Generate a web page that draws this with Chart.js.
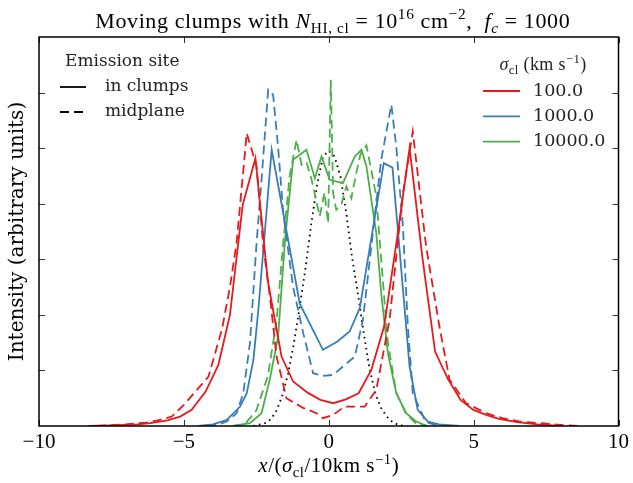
<!DOCTYPE html>
<html>
<head>
<meta charset="utf-8">
<script src="https://cdn.jsdelivr.net/npm/chart.js@4.4.1/dist/chart.umd.min.js"></script>
<style>
    html, body { margin: 0; padding: 0; background: #ffffff; }
    #kayra { display: block; }
</style>
</head>
<body>
<canvas id="kayra" width="633" height="483"></canvas>
<script>
const COLORS = {
    red: '#e41a1c',
    blue: '#377eb8',
    green: '#4daf4a',
    black: '#000000'
};

// sigma_cl = 100 km/s
const redClumpX = [-8.3, -7.5, -6.6, -6.16, -5.57, -5.13, -4.73, -4.25, -3.81, -3.41, -2.97, -2.53, -2.1, -1.63, -1.23, -0.73, -0.29, 0.15, 0.59, 1.03, 1.47, 1.91, 2.35, 2.79, 3.23, 3.67, 4.11, 4.55, 4.99, 5.43, 5.87, 6.5, 7.2, 8.0];
const redClumpY = [0.0, 0.01, 0.03, 0.05, 0.1, 0.17, 0.29, 0.62, 1.1, 2.0, 3.98, 4.82, 2.6, 1.25, 0.8, 0.6, 0.47, 0.41, 0.48, 0.59, 1.01, 1.79, 3.35, 5.0, 3.04, 1.34, 0.85, 0.47, 0.29, 0.2, 0.13, 0.07, 0.03, 0.0];
const redMidX = [-8.0, -7.0, -6.3, -5.9, -5.42, -5.0, -4.5, -4.15, -3.69, -3.41, -3.18, -2.83, -2.49, -2.26, -2.03, -1.8, -1.46, -0.9, -0.42, -0.2, 0.15, 0.55, 1.24, 1.64, 2.1, 2.56, 2.9, 3.36, 3.82, 4.17, 4.74, 5.43, 6.0, 6.6, 7.3, 8.0, 8.6];
const redMidY = [0.0, 0.03, 0.06, 0.1, 0.17, 0.38, 0.68, 0.89, 1.73, 2.5, 3.3, 5.27, 4.67, 3.23, 2.33, 1.25, 0.5, 0.33, 0.23, 0.14, 0.2, 0.35, 0.35, 0.65, 1.91, 4.19, 5.3, 3.23, 1.79, 0.83, 0.41, 0.23, 0.14, 0.08, 0.05, 0.02, 0.0];

// sigma_cl = 1000 km/s
const blueClumpX = [-4.5, -4.0, -3.52, -3.06, -2.83, -2.6, -2.43, -1.97, -1.57, -1.0, -0.2, 0.3, 0.72, 1.07, 1.9, 2.2, 2.79, 3.07, 3.42, 3.8, 4.5];
const blueClumpY = [0.0, 0.03, 0.11, 0.35, 0.59, 1.19, 2.09, 4.97, 3.83, 2.2, 1.37, 1.52, 1.7, 2.12, 4.73, 4.65, 1.07, 0.29, 0.08, 0.03, 0.0];
const blueMidX = [-4.2, -3.8, -3.52, -3.18, -2.95, -2.72, -2.49, -2.32, -2.09, -1.92, -1.75, -1.57, -1.23, -0.88, -0.54, -0.2, 0.15, 0.49, 0.9, 1.18, 1.47, 1.81, 2.16, 2.33, 2.56, 2.73, 2.9, 3.35, 3.8];
const blueMidY = [0.0, 0.03, 0.08, 0.23, 0.59, 1.49, 3.3, 4.43, 6.05, 5.96, 5.03, 3.83, 2.5, 1.67, 0.95, 0.9, 0.92, 1.07, 1.25, 1.91, 3.23, 4.79, 5.78, 5.03, 3.59, 1.79, 0.59, 0.07, 0.0];

// sigma_cl = 10000 km/s
const greenClumpX = [-3.3, -2.72, -2.32, -2.03, -1.75, -1.5, -1.23, -0.77, -0.48, -0.25, 0.03, 0.49, 0.9, 1.13, 1.3, 1.47, 1.64, 1.81, 2.04, 2.33, 2.67, 3.02, 3.4];
const greenClumpY = [0.0, 0.05, 0.23, 0.85, 1.6, 3.4, 4.79, 4.97, 4.46, 4.85, 4.43, 4.37, 4.85, 4.97, 4.67, 4.07, 3.47, 2.39, 1.31, 0.59, 0.23, 0.08, 0.0];
const greenMidX = [-3.3, -2.9, -2.5, -2.1, -1.8, -1.57, -1.35, -1.11, -0.94, -0.77, -0.6, -0.45, -0.31, -0.15, -0.02, 0.07, 0.15, 0.26, 0.44, 0.61, 0.78, 0.95, 1.1, 1.3, 1.47, 1.64, 1.81, 2.04, 2.33, 2.67, 3.0, 3.4];
const greenMidY = [0.0, 0.03, 0.28, 0.9, 1.9, 3.3, 4.5, 5.15, 4.7, 4.75, 4.45, 4.1, 3.77, 4.2, 3.65, 6.23, 4.19, 3.89, 4.0, 4.31, 4.1, 4.55, 4.9, 5.05, 4.6, 4.13, 3.0, 1.5, 0.6, 0.22, 0.05, 0.0];

// reference profile (dotted)
const refX = [-2.6, -2.2, -2.0, -1.8, -1.6, -1.4, -1.2, -1.0, -0.8, -0.6, -0.4, -0.2, 0.0, 0.2, 0.4, 0.6, 0.8, 1.0, 1.2, 1.4, 1.6, 1.8, 2.0, 2.2, 2.4, 2.6];
const refY = [0.0, 0.05, 0.12, 0.28, 0.55, 0.95, 1.5, 2.15, 2.85, 3.65, 4.35, 4.85, 4.95, 4.85, 4.5, 3.85, 3.05, 2.4, 1.7, 1.05, 0.6, 0.33, 0.17, 0.07, 0.02, 0.0];

const sigmaLabels = ['100.0', '1000.0', '10000.0'];
const siteLabels = ['in clumps', 'midplane'];
const xTicks = [-10, -5, 0, 5, 10];
const yTicks = [1, 2, 3, 4, 5, 6];

const SERIF = '"DejaVu Serif", serif';
const MATH = '"Liberation Serif", "Times New Roman", serif';
const DASH = [9, 5];

function pairs( xs, ys )
{
    return xs.map( ( x, i ) => ( { x: x, y: ys[ i ] } ) );
}

function lineSet( xs, ys, color, dash, width )
{
    return {
        data: pairs( xs, ys ),
        borderColor: color,
        backgroundColor: color,
        borderWidth: width || 1.8,
        borderDash: dash || [],
        pointRadius: 0,
        tension: 0,
        fill: false
    };
}

// draw text pieces with italic / sub / sup parts
function drawRich( ctx, parts, x, y, size, family, align, spacing )
{
    ctx.letterSpacing = ( spacing || 0 ) + 'px';
    let w = 0;
    const items = parts.map( function ( p )
    {
        const small = p.sub || p.sup;
        const fs = small ? size * 0.7 : size;
        const font = ( p.it ? 'italic ' : '' ) + fs + 'px ' + family;
        ctx.font = font;
        const tw = ctx.measureText( p.t ).width;
        const dy = p.sub ? size * 0.22 : ( p.sup ? -size * 0.4 : 0 );
        const item = { t: p.t, font: font, dx: w, dy: dy };
        w += tw;
        return item;
    } );
    let x0 = x;
    if ( align === 'center' ) x0 = x - w / 2;
    ctx.textBaseline = 'alphabetic';
    ctx.textAlign = 'left';
    items.forEach( function ( it )
    {
        ctx.font = it.font;
        ctx.fillText( it.t, x0 + it.dx, y + it.dy );
    } );
    ctx.letterSpacing = '0px';
}

const decorPlugin = {
    id: 'decor',
    afterDatasetsDraw( chart )
    {
        const ctx = chart.ctx;
        const a = chart.chartArea;
        const xs = chart.scales.x;
        const ys = chart.scales.y;
        ctx.save();

        // tick marks inside, on all four sides
        ctx.strokeStyle = '#333333';
        ctx.lineWidth = 1;
        xTicks.forEach( function ( t )
        {
            const px = Math.round( xs.getPixelForValue( t ) ) + 0.5;
            ctx.beginPath();
            ctx.moveTo( px, a.bottom );
            ctx.lineTo( px, a.bottom - 6 );
            ctx.moveTo( px, a.top );
            ctx.lineTo( px, a.top + 6 );
            ctx.stroke();
        } );
        yTicks.forEach( function ( t )
        {
            const py = Math.round( ys.getPixelForValue( t ) ) + 0.5;
            ctx.beginPath();
            ctx.moveTo( a.left, py );
            ctx.lineTo( a.left + 6, py );
            ctx.moveTo( a.right, py );
            ctx.lineTo( a.right - 6, py );
            ctx.stroke();
        } );

        // frame
        ctx.strokeStyle = '#000000';
        ctx.lineWidth = 1.5;
        ctx.strokeRect( a.left, a.top, a.right - a.left, a.bottom - a.top );

        // title
        ctx.fillStyle = '#000000';
        drawRich( ctx, [
            { t: 'Moving clumps with ' },
            { t: 'N', it: true },
            { t: 'HI, cl', sub: true },
            { t: ' = 10' },
            { t: '16', sup: true },
            { t: ' cm' },
            { t: '\u22122', sup: true },
            { t: ',  ' },
            { t: 'f', it: true },
            { t: 'c', it: true, sub: true },
            { t: ' = 1000' }
        ], ( a.left + a.right ) / 2 + 4, 28, 22, MATH, 'center', 0.6 );

        // x axis label
        drawRich( ctx, [
            { t: 'x', it: true },
            { t: '/(' },
            { t: '\u03c3', it: true },
            { t: 'cl', sub: true },
            { t: '/10km s' },
            { t: '\u22121', sup: true },
            { t: ')' }
        ], ( a.left + a.right ) / 2, 472, 21, MATH, 'center', 0.5 );

        // legend: emission site
        ctx.fillStyle = '#222222';
        ctx.font = '17px ' + SERIF;
        ctx.textBaseline = 'middle';
        ctx.fillText( 'Emission site', 65, 62 );
        const siteDash = [ [], DASH ];
        siteLabels.forEach( function ( lab, i )
        {
            const y = 87 + i * 25;
            ctx.strokeStyle = '#000000';
            ctx.lineWidth = 1.8;
            ctx.setLineDash( siteDash[ i ] );
            ctx.beginPath();
            ctx.moveTo( 60, y );
            ctx.lineTo( 86, y );
            ctx.stroke();
            ctx.setLineDash( [] );
            ctx.font = '17px ' + SERIF;
            ctx.textBaseline = 'middle';
            ctx.fillStyle = '#222222';
            ctx.fillText( lab, 105, y );
        } );

        // legend: sigma
        ctx.fillStyle = '#222222';
        drawRich( ctx, [
            { t: '\u03c3', it: true },
            { t: 'cl', sub: true },
            { t: ' (km s' },
            { t: '\u22121', sup: true },
            { t: ')' }
        ], 543, 70, 18, MATH, 'center', 0.4 );
        const sigmaColors = [ COLORS.red, COLORS.blue, COLORS.green ];
        sigmaLabels.forEach( function ( lab, i )
        {
            const y = 91 + i * 25.3;
            ctx.strokeStyle = sigmaColors[ i ];
            ctx.lineWidth = 1.8;
            ctx.beginPath();
            ctx.moveTo( 483, y );
            ctx.lineTo( 520, y );
            ctx.stroke();
            ctx.font = '17.5px ' + SERIF;
            ctx.textBaseline = 'middle';
            ctx.textAlign = 'left';
            ctx.fillStyle = '#222222';
            ctx.fillText( lab, 533, y );
        } );

        ctx.restore();
    }
};

const config = {
    type: 'line',
    data: {
        datasets: [
            lineSet( redClumpX, redClumpY, COLORS.red ),
            lineSet( redMidX, redMidY, COLORS.red, DASH ),
            lineSet( blueClumpX, blueClumpY, COLORS.blue ),
            lineSet( blueMidX, blueMidY, COLORS.blue, DASH ),
            lineSet( greenClumpX, greenClumpY, COLORS.green ),
            lineSet( greenMidX, greenMidY, COLORS.green, DASH ),
            lineSet( refX, refY, COLORS.black, [ 1.6, 4 ], 1.8 )
        ]
    },
    options: {
        responsive: false,
        animation: false,
        devicePixelRatio: 1,
        layout: {
            padding: { top: 37, right: 13, left: 0, bottom: 0 }
        },
        plugins: {
            legend: { display: false },
            title: { display: false },
            tooltip: { enabled: false }
        },
        scales: {
            x: {
                type: 'linear',
                min: -10,
                max: 10,
                grid: { display: false, drawTicks: false },
                border: { display: false },
                afterBuildTicks: function ( scale )
                {
                    scale.ticks = xTicks.map( v => ( { value: v } ) );
                },
                afterFit: function ( scale )
                {
                    scale.height = 57;
                },
                ticks: {
                    padding: 4,
                    color: '#000000',
                    font: { family: MATH, size: 21 },
                    maxRotation: 0,
                    autoSkip: false,
                    callback: function ( value )
                    {
                        return value < 0 ? '\u2212' + Math.abs( value ) : String( value );
                    }
                }
            },
            y: {
                type: 'linear',
                min: 0,
                max: 7,
                grid: { display: false, drawTicks: false },
                border: { display: false },
                ticks: { display: false },
                afterFit: function ( scale )
                {
                    scale.width = 39;
                },
                title: {
                    display: true,
                    text: 'Intensity (arbitrary units)',
                    color: '#000000',
                    font: { family: SERIF, size: 20 },
                    padding: { top: 6, bottom: 0 }
                }
            }
        }
    },
    plugins: [ decorPlugin ]
};

new Chart( document.getElementById( 'kayra' ).getContext( '2d' ), config );
</script>
</body>
</html>
